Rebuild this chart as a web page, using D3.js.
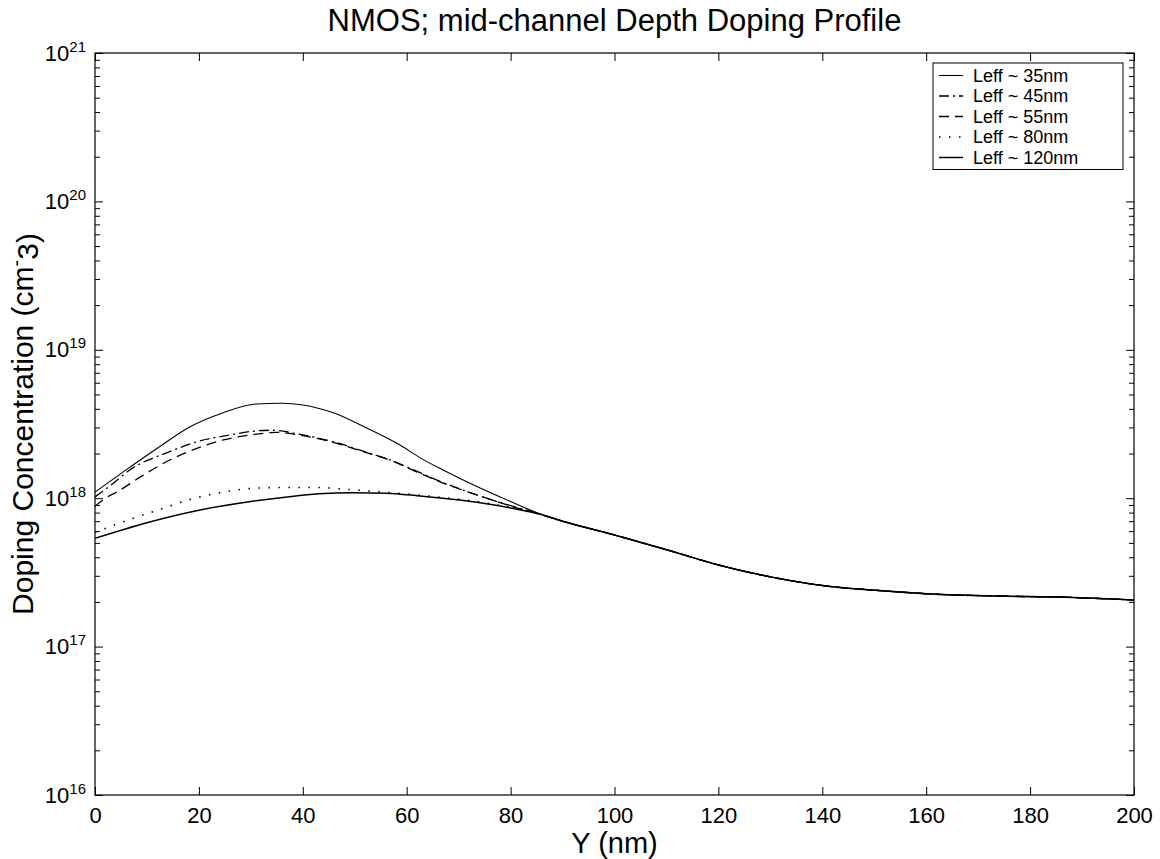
<!DOCTYPE html>
<html>
<head>
<meta charset="utf-8">
<script src="https://cdn.jsdelivr.net/npm/d3@7"></script>
<style>
  body { margin: 0; background: #fff; }
  svg text { font-family: "Liberation Sans", Arial, Helvetica, sans-serif; fill: #000; }
</style>
</head>
<body>
<svg id="chart" width="1160" height="859"></svg>
<script>
// ---- data ----
const xTickValues = [0, 20, 40, 60, 80, 100, 120, 140, 160, 180, 200];
const yDecades = [16, 17, 18, 19, 20, 21];
const seriesLabels = ['Leff ~ 35nm', 'Leff ~ 45nm', 'Leff ~ 55nm', 'Leff ~ 80nm', 'Leff ~ 120nm'];

// [depth nm, doping cm^-3]
const leff35 = [[0, 1.1e18], [5.5, 1.51e18], [12, 2.17e18], [18.3, 3.03e18], [24.7, 3.77e18],
  [31, 4.31e18], [36, 4.36e18], [40, 4.25e18], [46, 3.75e18], [52.3, 2.97e18], [58.7, 2.28e18],
  [62.6, 1.87e18], [67, 1.55e18], [73.5, 1.2e18], [80, 9.5e17], [85, 8.0e17]];
const leff45 = [[0, 1.02e18], [3, 1.22e18], [6.7, 1.55e18], [14.4, 2.06e18], [19.6, 2.4e18],
  [26, 2.67e18], [31, 2.84e18], [34, 2.87e18], [39.5, 2.69e18], [45.9, 2.4e18], [51, 2.11e18],
  [56.8, 1.81e18], [61.9, 1.52e18], [66.4, 1.3e18], [75.4, 1.0e18], [80.5, 8.8e17], [85, 7.95e17]];
const leff55 = [[0, 8.8e17], [2, 1.0e18], [4.2, 1.1e18], [9.3, 1.43e18], [14.4, 1.81e18],
  [19.6, 2.17e18], [24.7, 2.47e18], [31, 2.7e18], [35, 2.78e18], [40, 2.64e18], [46, 2.37e18],
  [51, 2.09e18], [57, 1.79e18], [62, 1.5e18], [66.4, 1.29e18], [75.4, 1.0e18], [80.5, 8.75e17], [85, 7.9e17]];
const leff80 = [[0, 5.9e17], [5.5, 6.95e17], [12, 8.3e17], [18.3, 9.8e17], [24.7, 1.1e18],
  [31, 1.17e18], [36, 1.18e18], [43, 1.18e18], [48, 1.15e18], [55.5, 1.1e18], [61, 1.06e18],
  [67, 1.01e18], [73.5, 9.5e17], [80, 8.65e17], [85, 7.9e17]];
const leff120 = [[0, 5.37e17], [10, 6.84e17], [20, 8.3e17], [30, 9.5e17], [37, 1.02e18],
  [43, 1.07e18], [50, 1.09e18], [56, 1.08e18], [62, 1.04e18], [67, 1.0e18], [73.5, 9.4e17],
  [80, 8.6e17], [85, 7.9e17]];
// past ~88nm all five profiles sit on the same curve
const sharedTail = [[90, 7.0e17], [100, 5.65e17], [110, 4.5e17], [120, 3.55e17], [130, 2.95e17],
  [142, 2.53e17], [150, 2.4e17], [161, 2.26e17], [174, 2.19e17], [187, 2.15e17], [200, 2.06e17]];

// ---- layout ----
const svg = d3.select('#chart');
const plot = { left: 95, right: 1134, top: 53, bottom: 795 };

const xScale = d3.scaleLinear().domain([0, 200]).range([plot.left, plot.right]);
const yScale = d3.scaleLog().domain([1e16, 1e21]).range([plot.bottom, plot.top]);

const styles = [
  { dash: null, width: 1.1 },
  { dash: '10,4,2,4', width: 1.3 },
  { dash: '10,6', width: 1.3 },
  { dash: '1.5,8.5', width: 1.6 },
  { dash: null, width: 1.5 }
];
const series = [leff35, leff45, leff55, leff80, leff120].map((head, i) => ({
  label: seriesLabels[i],
  values: head.concat(sharedTail),
  style: styles[i]
}));

svg.append('rect').attr('width', 1160).attr('height', 859).attr('fill', '#fff');

// ---- axes (Matlab style: ticks inside, box all round) ----
const majorY = yDecades.map(p => Math.pow(10, p));
const minorY = [];
yDecades.slice(0, -1).forEach(p => {
  for (let k = 2; k <= 9; k++) minorY.push(k * Math.pow(10, p));
});

const fontTick = 22;

const gX = svg.append('g').attr('transform', `translate(0,${plot.bottom})`)
  .call(d3.axisBottom(xScale).tickValues(xTickValues).tickSize(-8).tickSizeOuter(0).tickPadding(12));
svg.append('g').attr('transform', `translate(0,${plot.top})`)
  .call(d3.axisTop(xScale).tickValues(xTickValues).tickSize(-8).tickSizeOuter(0).tickFormat(''));

const gY = svg.append('g').attr('transform', `translate(${plot.left},0)`)
  .call(d3.axisLeft(yScale).tickValues(majorY).tickSize(-8).tickSizeOuter(0).tickPadding(9));
svg.append('g').attr('transform', `translate(${plot.left},0)`)
  .call(d3.axisLeft(yScale).tickValues(minorY).tickSize(-5).tickSizeOuter(0).tickFormat(''));
svg.append('g').attr('transform', `translate(${plot.right},0)`)
  .call(d3.axisRight(yScale).tickValues(majorY).tickSize(-8).tickSizeOuter(0).tickFormat(''));
svg.append('g').attr('transform', `translate(${plot.right},0)`)
  .call(d3.axisRight(yScale).tickValues(minorY).tickSize(-5).tickSizeOuter(0).tickFormat(''));

svg.selectAll('.domain').remove();
svg.selectAll('.tick line').attr('stroke', '#000').attr('stroke-width', 1);

gX.selectAll('.tick text')
  .attr('font-family', null)
  .style('font-size', fontTick + 'px');

gY.selectAll('.tick text').each(function (d) {
  const t = d3.select(this).text('').attr('font-family', null).style('font-size', fontTick + 'px');
  t.append('tspan').text('10');
  t.append('tspan').attr('dy', '-0.6em').style('font-size', '15px').text(Math.round(Math.log10(d)));
});

svg.append('rect')
  .attr('x', plot.left).attr('y', plot.top)
  .attr('width', plot.right - plot.left).attr('height', plot.bottom - plot.top)
  .attr('fill', 'none').attr('stroke', '#000').attr('stroke-width', 1.2);

// ---- curves ----
svg.append('clipPath').attr('id', 'plotClip').append('rect')
  .attr('x', plot.left).attr('y', plot.top)
  .attr('width', plot.right - plot.left).attr('height', plot.bottom - plot.top);

const line = d3.line()
  .curve(d3.curveMonotoneX)
  .x(d => xScale(d[0]))
  .y(d => yScale(d[1]));

svg.append('g').attr('clip-path', 'url(#plotClip)')
  .selectAll('path')
  .data(series)
  .join('path')
  .attr('d', d => line(d.values))
  .attr('fill', 'none')
  .attr('stroke', '#000')
  .attr('stroke-width', d => d.style.width)
  .attr('stroke-dasharray', d => d.style.dash);

// ---- legend ----
const legend = { x: 933, y: 63, w: 190, row: 20.5 };
const gL = svg.append('g');
gL.append('rect')
  .attr('x', legend.x).attr('y', legend.y)
  .attr('width', legend.w).attr('height', legend.row * series.length + 4)
  .attr('fill', '#fff').attr('stroke', '#000').attr('stroke-width', 1);

const items = gL.selectAll('g.item').data(series).join('g')
  .attr('class', 'item')
  .attr('transform', (d, i) => `translate(${legend.x},${legend.y + 12.5 + i * legend.row})`);
items.append('line')
  .attr('x1', 6).attr('x2', 30).attr('y1', 0).attr('y2', 0)
  .attr('stroke', '#000')
  .attr('stroke-width', d => d.style.width)
  .attr('stroke-dasharray', d => d.style.dash);
items.append('text')
  .attr('x', 40).attr('dy', '0.36em')
  .style('font-size', '18px')
  .text(d => d.label);

// ---- titles ----
svg.append('text')
  .attr('x', (plot.left + plot.right) / 2).attr('y', 31)
  .attr('text-anchor', 'middle')
  .style('font-size', '31px')
  .text('NMOS; mid-channel Depth Doping Profile');

svg.append('text')
  .attr('x', (plot.left + plot.right) / 2).attr('y', 853)
  .attr('text-anchor', 'middle')
  .style('font-size', '29px')
  .text('Y (nm)');

const yLab = svg.append('text')
  .attr('transform', `translate(33,${(plot.top + plot.bottom) / 2}) rotate(-90)`)
  .attr('text-anchor', 'middle')
  .style('font-size', '30px');
yLab.append('tspan').text('Doping Concentration (cm');
yLab.append('tspan').attr('dy', '-0.5em').style('font-size', '20px').text('-');
yLab.append('tspan').attr('dy', '0.5em').text('3)');
</script>
</body>
</html>
